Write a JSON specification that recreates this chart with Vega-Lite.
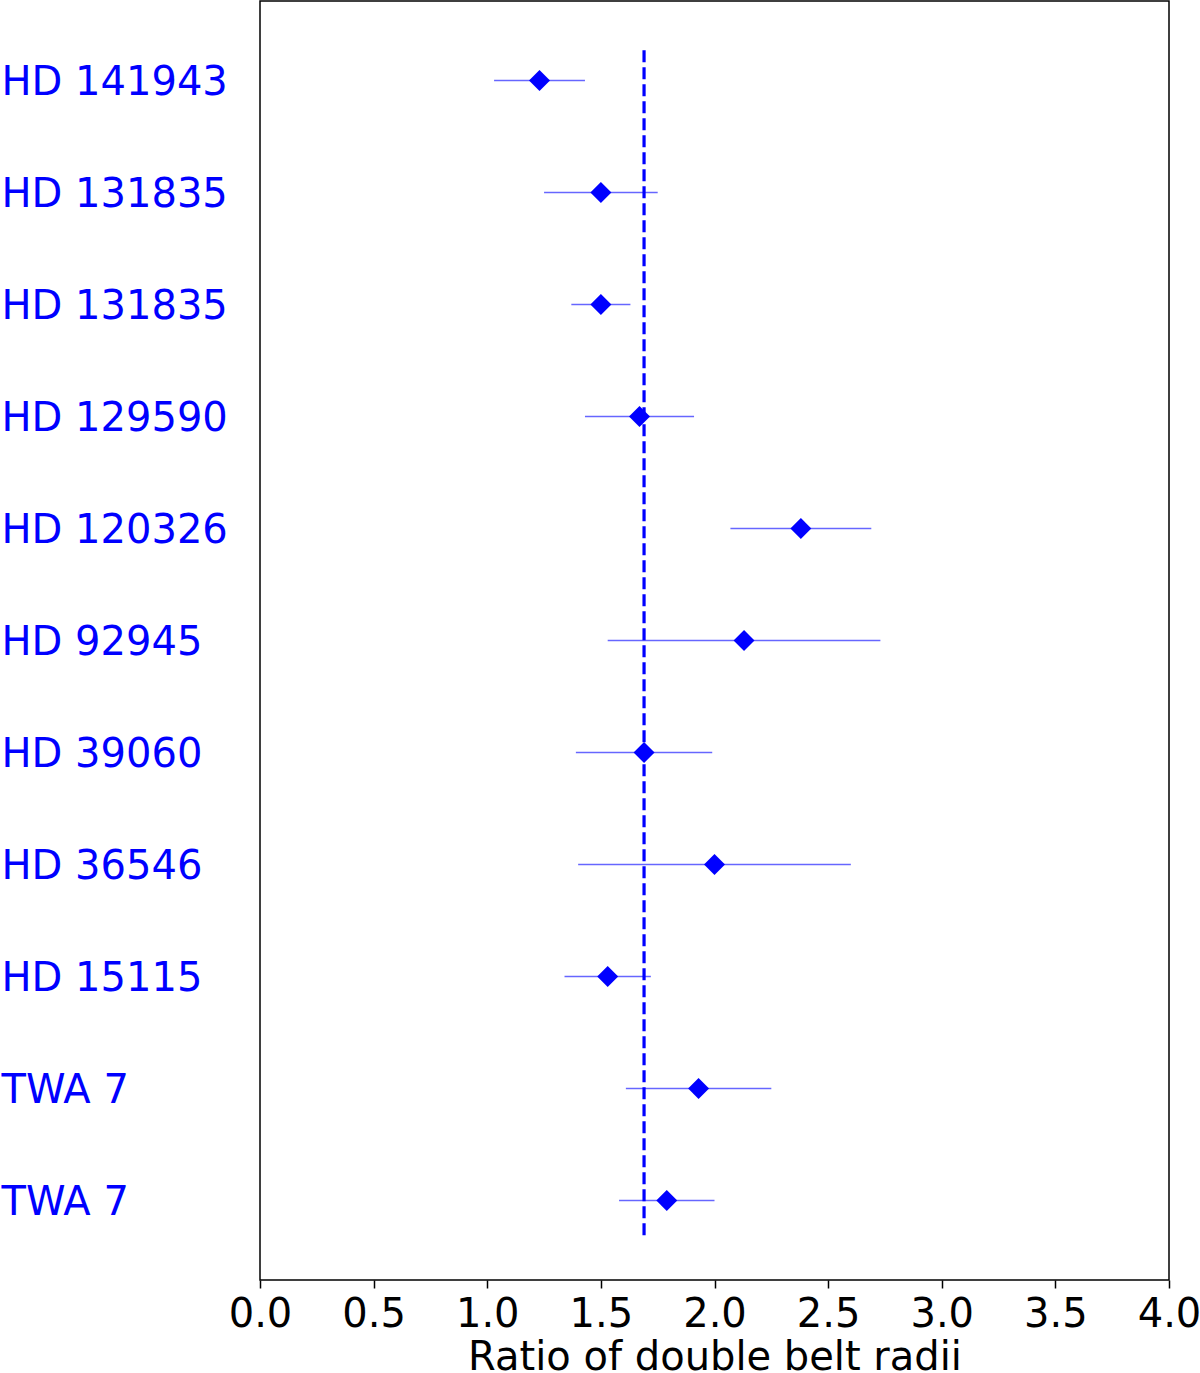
{
  "$schema": "https://vega.github.io/schema/vega-lite/v6.json",
  "width": 909,
  "height": 1279,
  "autosize": {"type": "none"},
  "padding": {"left": 260, "top": 1, "right": 31, "bottom": 93},
  "background": "white",
  "config": {
    "font": "DejaVu Sans",
    "view": {"stroke": "black", "strokeWidth": 1.5},
    "axis": {"grid": false}
  },
  "datasets": {
    "belts": [
      {"row": 1, "star": "HD 141943", "ratio": 1.23, "lo": 1.03, "hi": 1.43},
      {"row": 2, "star": "HD 131835", "ratio": 1.5, "lo": 1.25, "hi": 1.75},
      {"row": 3, "star": "HD 131835 ", "ratio": 1.5, "lo": 1.37, "hi": 1.63},
      {"row": 4, "star": "HD 129590", "ratio": 1.67, "lo": 1.43, "hi": 1.91},
      {"row": 5, "star": "HD 120326", "ratio": 2.38, "lo": 2.07, "hi": 2.69},
      {"row": 6, "star": "HD 92945", "ratio": 2.13, "lo": 1.53, "hi": 2.73},
      {"row": 7, "star": "HD 39060", "ratio": 1.69, "lo": 1.39, "hi": 1.99},
      {"row": 8, "star": "HD 36546", "ratio": 2.0, "lo": 1.4, "hi": 2.6},
      {"row": 9, "star": "HD 15115", "ratio": 1.53, "lo": 1.34, "hi": 1.72},
      {"row": 10, "star": "TWA 7", "ratio": 1.93, "lo": 1.61, "hi": 2.25},
      {"row": 11, "star": "TWA 7 ", "ratio": 1.79, "lo": 1.58, "hi": 2.0}
    ],
    "reference": [{"mean": 1.69}]
  },
  "resolve": {"scale": {"y": "independent"}},
  "layer": [
    {
      "data": {"name": "belts"},
      "layer": [
        {
          "mark": {"type": "rule", "color": "#0000ff", "opacity": 0.6, "strokeWidth": 1.5},
          "encoding": {
            "x": {"field": "lo", "type": "quantitative"},
            "x2": {"field": "hi"},
            "y": {"field": "star", "type": "nominal", "sort": {"field": "row", "op": "min"}}
          }
        },
        {
          "mark": {"type": "point", "shape": "diamond", "filled": true, "color": "#0000ff", "opacity": 1, "size": 440, "strokeWidth": 0},
          "encoding": {
            "x": {"field": "ratio", "type": "quantitative"},
            "y": {"field": "star", "type": "nominal", "sort": {"field": "row", "op": "min"}}
          }
        }
      ],
      "encoding": {
        "x": {
          "type": "quantitative",
          "scale": {"domain": [0, 4], "nice": false, "zero": false},
          "axis": {
            "title": "Ratio of double belt radii",
            "values": [0, 0.5, 1, 1.5, 2, 2.5, 3, 3.5, 4],
            "format": ".1f",
            "domain": false,
            "ticks": true,
            "tickColor": "black",
            "tickSize": 8,
            "tickWidth": 1.5,
            "labelFontSize": 40,
            "labelColor": "black",
            "labelPadding": 6,
            "labelFlush": false,
            "labelOverlap": false,
            "titleFontSize": 40,
            "titleFontWeight": "normal",
            "titleColor": "black",
            "titleBaseline": "alphabetic",
            "titleY": 89
          }
        },
        "y": {
          "type": "nominal",
          "scale": {"type": "point", "padding": 0.71},
          "axis": {
            "title": null,
            "domain": false,
            "ticks": false,
            "tickSize": 0,
            "labelAlign": "left",
            "labelBaseline": "middle",
            "labelPadding": 259,
            "labelOffset": 2,
            "labelFontSize": 40,
            "labelColor": "#0000ff",
            "labelLimit": 400,
            "labelOverlap": false
          }
        }
      }
    },
    {
      "data": {"name": "reference"},
      "mark": {"type": "rule", "color": "#0000ff", "strokeWidth": 3.2, "strokeDash": [12, 5]},
      "encoding": {
        "x": {"field": "mean", "type": "quantitative"},
        "y": {"datum": 0.035, "type": "quantitative", "scale": {"domain": [0, 1], "nice": false, "zero": false}, "axis": null},
        "y2": {"datum": 0.965}
      }
    }
  ]
}
